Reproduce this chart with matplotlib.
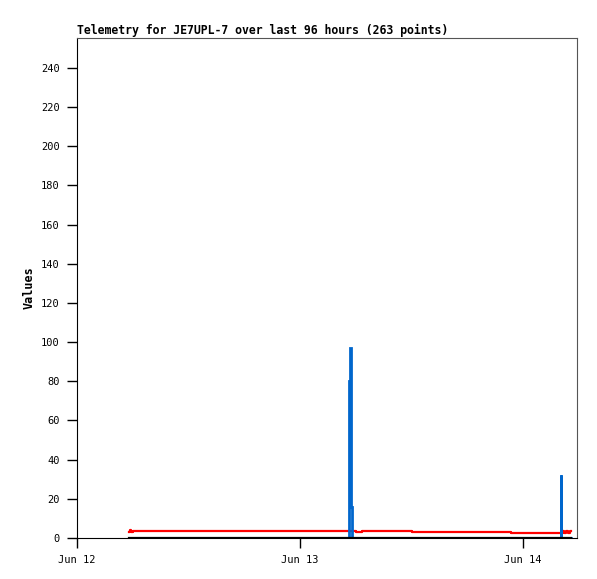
import matplotlib.pyplot as plt

# hours since Jun 12 00:00
red_t = [5.60, 5.75, 5.85, 6.05, 29.27, 30.03, 30.67, 36.05, 46.71, 51.98,
         52.25, 52.45, 52.65, 52.85, 53.05, 53.20]
red_v = [3.0, 4.0, 3.0, 3.8, 3.8, 3.0, 3.8, 3.3, 2.8, 2.8,
         3.8, 2.8, 3.8, 2.8, 3.8, 3.8]

blue_t = [5.60, 29.27, 29.33, 29.50, 29.58, 52.05, 52.12, 53.20]
blue_v = [0, 80, 97, 16, 0, 32, 0, 0]

black_t = [5.60, 53.20]
black_v = [0, 0]

tick_hours = [0, 24, 48]
tick_labels = ['Jun 12', 'Jun 13', 'Jun 14']
y_ticks = list(range(0, 241, 20))

plt.rcParams['font.family'] = ['DejaVu Sans Mono']

fig = plt.figure(figsize=(5.97, 5.79), dpi=100)
ax = fig.add_axes([77 / 597, 41 / 579, 500 / 597, 500 / 579])

ax.plot(red_t, red_v, color='#ff0000', lw=1.6, drawstyle='steps-post', zorder=2)
ax.plot(blue_t, blue_v, color='#0066cc', lw=2.0, drawstyle='steps-post',
        solid_joinstyle='miter', zorder=3)
ax.plot(black_t, black_v, color='black', lw=1.6, drawstyle='steps-post', zorder=4)

ax.set_xlim(0, 53.8)
ax.set_ylim(0, 255.3)
ax.set_xticks(tick_hours)
ax.set_xticklabels(tick_labels)
ax.set_yticks(y_ticks)
ax.tick_params(direction='out', length=7, width=1, labelsize=7.5)
ax.tick_params(axis='y', pad=5.5)
ax.tick_params(axis='x', pad=5)

for side in ['top', 'right']:
    ax.spines[side].set_color('#555555')
for side in ['left', 'bottom']:
    ax.spines[side].set_color('black')

ax.set_ylabel('Values', fontsize=8.5, fontweight='bold', labelpad=4)
ax.set_title('Telemetry for JE7UPL-7 over last 96 hours (263 points)',
             fontsize=8.3, fontweight='bold', loc='left', pad=3)

fig.savefig('out.png', dpi=100)
